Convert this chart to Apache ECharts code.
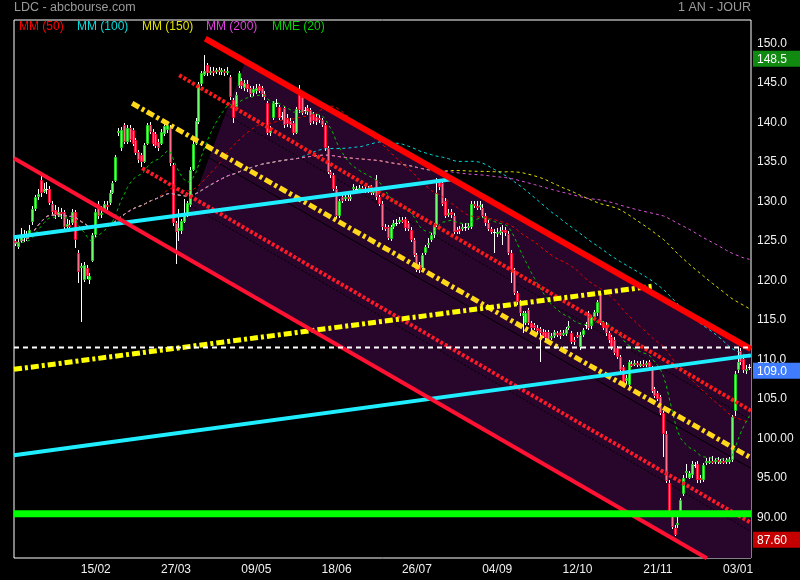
<!DOCTYPE html>
<html><head><meta charset="utf-8">
<script src="https://cdn.jsdelivr.net/npm/echarts@6/dist/echarts.min.js"></script>
<style>html,body{margin:0;padding:0;background:#000;}#c{width:800px;height:580px;}</style>
</head><body><div id="c"></div>
<script>
// ---------- calendar (trading days) ----------
const startDate = '2018-01-08';
const holidays = ['2018-03-30','2018-04-02','2018-05-01','2018-12-25','2018-12-26','2019-01-01'];
const tickLabels = ['15/02','27/03','09/05','18/06','26/07','04/09','12/10','21/11','03/01'];
const yTickValues = [90,95,100,105,110,115,120,125,130,135,140,145,150];

// ---------- candles: [open, close, low, high] ----------
const candles = [
[125.0,124.7,124.3,125.6],[124.2,124.8,124.0,125.3],[125.0,125.6,124.7,126.6],[125.7,125.3,124.9,126.4],[125.4,125.9,125.0,126.3],
[125.9,126.4,125.5,127.0],[127.4,129.0,127.0,129.4],[129.0,130.5,128.8,130.8],[130.6,130.9,130.2,131.6],[132.7,131.0,130.6,133.3],
[131.2,131.6,131.0,132.3],[131.5,131.5,130.9,132.4],[131.6,129.8,129.5,131.9],[129.7,128.6,128.2,130.0],[128.9,128.3,127.8,129.5],
[128.3,128.7,128.0,129.3],[128.7,128.4,127.7,129.1],[128.6,126.7,126.4,128.9],[126.8,127.1,126.3,127.7],[127.0,126.9,126.4,127.6],
[127.2,128.6,127.0,129.0],[128.6,125.1,124.1,128.9],[123.5,121.0,119.6,123.8],[121.6,121.8,114.7,122.2],[120.0,121.9,119.8,122.3],
[121.6,120.5,120.2,122.0],[120.0,120.6,119.5,120.9],[122.5,125.7,122.3,126.0],[125.7,128.6,125.5,129.0],[129.7,128.2,127.8,130.0],
[128.3,128.5,127.9,129.4],[128.9,129.6,128.6,130.0],[129.5,129.4,128.9,130.1],[129.8,131.1,129.5,131.4],[131.1,132.3,130.9,132.6],
[132.6,135.6,132.4,135.9],[138.6,138.9,138.3,139.3],[136.7,139.0,136.4,139.4],[139.6,137.5,137.2,139.9],[137.5,139.3,137.2,139.6],
[139.3,137.8,137.5,139.6],[139.0,137.3,137.0,139.3],[137.7,136.1,135.8,138.0],[136.2,135.2,134.9,136.5],[135.8,135.0,134.3,136.1],
[135.0,137.1,134.8,137.4],[137.3,139.6,137.1,139.9],[139.6,138.8,138.5,140.0],[138.8,137.3,137.0,139.1],[138.5,137.0,136.7,138.8],
[137.5,136.8,136.4,137.9],[137.3,138.8,137.1,139.1],[138.5,139.5,138.3,139.8],[139.0,139.6,138.7,140.0],[139.4,134.8,134.5,139.7],
[134.6,127.2,126.9,134.8],[127.2,126.1,122.1,127.5],[126.3,126.6,125.0,129.0],[126.2,127.5,125.9,127.8],[127.4,128.3,127.2,130.3],
[128.3,129.8,128.0,130.1],[129.5,134.0,129.3,134.3],[134.0,137.3,133.8,137.6],[137.3,140.2,137.1,140.5],[140.0,144.8,139.8,145.1],
[144.8,146.2,144.6,146.5],[146.0,146.5,145.8,148.5],[147.2,146.2,145.9,147.5],[146.3,146.5,146.0,147.0],[146.5,146.3,145.9,147.0],
[146.4,146.6,146.1,146.9],[146.6,146.4,146.0,147.0],[146.4,146.6,146.0,146.9],[146.5,146.3,145.9,146.8],[146.3,146.5,146.0,147.0],
[145.7,143.2,142.8,146.0],[142.8,140.6,139.9,143.1],[142.0,143.5,141.6,143.8],[144.6,146.2,144.3,146.5],[145.2,144.6,144.2,145.6],
[144.4,145.0,144.0,145.4],[144.9,144.2,143.8,145.3],[144.3,143.6,143.2,144.6],[143.7,144.2,143.3,144.6],[144.0,144.3,143.6,144.8],
[144.6,144.0,143.7,144.9],[144.3,143.6,143.2,144.6],[143.6,143.2,142.8,143.9],[142.4,138.7,138.4,142.7],[138.7,139.0,138.3,139.5],
[140.6,142.4,140.3,142.7],[142.4,142.4,141.9,143.0],[141.9,140.6,140.3,142.2],[140.8,140.8,140.3,141.3],[141.8,139.6,139.3,142.1],
[140.6,139.8,139.4,141.0],[140.2,139.6,139.3,140.5],[139.9,138.7,138.4,140.2],[138.7,141.7,138.5,142.0],[143.7,141.5,141.2,144.7],
[143.2,141.2,140.9,143.5],[141.6,141.5,141.0,142.0],[141.8,141.3,140.9,142.2],[141.5,139.9,139.6,141.8],[141.0,140.2,139.8,141.3],
[140.7,140.0,139.6,141.1],[140.5,140.3,139.9,140.9],[140.3,139.7,139.4,140.6],[139.6,136.7,136.4,139.9],[136.7,133.7,133.4,137.0],
[133.7,133.3,133.0,134.0],[133.3,131.6,131.3,133.6],[131.6,128.2,127.9,131.9],[128.2,130.0,127.9,130.3],[130.5,130.1,129.8,130.8],
[130.3,130.5,130.0,130.9],[130.5,130.4,130.0,130.9],[130.4,130.6,130.1,131.0],[131.5,131.8,131.2,132.2],[131.6,131.5,131.1,132.0],
[131.5,131.7,131.2,132.1],[131.7,131.4,131.0,132.0],[131.4,131.6,131.1,132.0],[131.6,131.5,131.1,132.0],[131.8,131.1,130.8,132.1],
[131.1,131.3,130.8,131.6],[132.7,130.5,130.2,133.3],[130.5,129.7,129.4,130.8],[129.7,126.7,126.4,130.0],[126.8,126.5,126.2,127.1],
[126.7,125.4,125.1,127.0],[125.2,126.7,125.0,127.0],[126.8,127.2,126.5,127.6],[127.2,127.3,126.9,127.8],[127.4,127.6,127.1,128.0],
[127.6,127.5,127.2,128.0],[127.7,126.6,126.3,128.0],[127.2,126.5,126.2,127.5],[126.4,125.1,124.8,126.7],[125.1,123.2,122.9,125.4],
[123.2,121.3,121.0,123.5],[122.0,121.3,120.9,122.3],[121.6,123.2,121.3,123.5],[123.5,124.2,123.2,124.5],[124.5,124.7,124.1,125.3],
[125.1,125.7,124.8,126.0],[125.7,127.0,125.4,127.3],[127.0,131.0,126.8,133.0],[132.4,131.8,131.4,132.8],[132.3,129.7,129.4,132.6],
[130.1,128.2,127.9,130.4],[128.4,128.5,128.0,129.0],[128.6,128.3,127.9,129.0],[128.2,126.1,125.8,128.5],[126.4,126.2,125.8,126.8],
[126.5,126.3,125.9,126.9],[126.6,126.8,126.3,127.1],[126.8,126.7,126.3,127.2],[126.8,126.9,126.4,127.2],[126.8,129.7,126.5,130.0],
[129.7,129.4,129.1,130.1],[129.4,129.3,128.9,130.0],[129.3,129.5,128.9,130.1],[129.2,128.2,127.9,129.6],[128.2,127.2,126.9,128.5],
[127.3,126.5,126.2,127.6],[126.5,126.1,125.8,126.8],[126.1,126.1,123.4,126.5],[125.8,126.1,125.5,126.6],[126.0,126.3,125.7,126.7],
[126.4,126.3,124.5,127.0],[126.4,126.0,125.6,126.7],[125.9,123.5,123.2,126.2],[123.5,121.3,119.6,123.8],[121.3,118.4,118.1,121.6],
[118.4,117.2,116.9,118.7],[117.2,115.8,115.5,117.5],[115.5,115.8,113.3,116.1],[114.6,115.8,114.3,116.1],[116.2,114.6,114.3,116.5],
[114.6,114.0,113.7,114.9],[114.3,114.0,113.7,114.6],[114.0,113.6,113.3,114.3],[113.8,113.3,109.6,114.1],[113.5,113.0,112.7,113.8],
[113.4,112.7,112.4,113.7],[113.4,112.4,112.1,113.7],[112.8,112.9,112.4,113.3],[113.0,113.4,112.7,113.7],[113.3,113.2,112.8,113.6],
[113.4,112.9,112.6,113.7],[113.2,113.3,112.9,113.7],[113.2,113.8,112.9,114.1],[114.0,114.2,113.7,114.8],[113.3,112.2,111.9,113.6],
[112.5,112.2,111.8,112.8],[113.1,113.0,112.7,113.4],[111.5,113.1,111.2,113.4],[113.1,113.7,112.8,114.0],[114.3,114.4,113.9,114.7],
[115.8,114.0,113.7,116.1],[114.2,115.3,113.9,115.6],[115.4,116.0,115.1,116.3],[115.8,117.2,115.5,117.5],[118.4,114.6,114.3,118.7],
[114.5,114.0,113.7,114.8],[114.4,113.3,113.0,114.7],[113.3,112.4,112.1,113.6],[112.8,111.5,111.2,113.1],[112.5,110.8,110.5,112.8],
[111.4,110.3,110.0,111.7],[110.3,108.6,108.3,110.6],[109.0,107.0,106.5,109.3],[107.2,107.6,106.9,108.0],[106.7,109.6,106.5,109.9],
[109.4,109.3,109.0,109.8],[109.3,109.5,109.1,109.9],[109.5,109.3,109.0,109.8],[109.3,109.4,109.0,109.8],[109.4,109.3,109.0,109.9],
[109.3,109.5,109.0,109.8],[109.6,109.0,108.7,109.9],[109.0,106.0,105.7,109.2],[106.2,105.4,105.1,106.5],[105.7,105.0,104.7,106.0],
[105.2,103.2,102.9,105.5],[103.2,100.6,97.6,103.5],[100.6,94.6,94.3,100.9],[94.4,90.5,90.2,94.7],[90.4,88.8,88.5,90.7],
[88.7,87.8,87.6,89.0],[89.0,89.3,88.7,90.5],[90.5,92.2,90.2,92.5],[93.0,95.0,92.7,95.3],[95.6,95.8,95.0,96.8],
[95.0,95.6,94.8,95.9],[95.3,96.8,95.0,97.1],[96.6,96.6,96.2,97.0],[96.8,94.7,94.4,97.1],[95.0,94.7,94.4,95.3],
[94.7,96.6,94.5,96.9],[96.9,97.1,96.6,97.5],[97.0,97.1,96.7,97.6],[97.1,97.0,96.7,97.8],[97.0,97.2,96.8,97.5],
[97.2,97.0,96.7,97.6],[97.0,97.1,96.8,97.4],[97.1,97.0,96.7,97.5],[97.0,97.2,96.8,97.5],[97.0,97.3,96.8,97.6],
[97.2,102.7,97.0,103.0],[103.5,108.2,102.8,108.5],[108.6,109.6,108.3,111.4],[111.1,109.6,109.3,111.4],[110.1,108.6,108.3,110.4],
[108.7,108.8,108.2,109.3],[109.0,109.0,108.6,109.4]
];

// ---------- drawn trend lines, [candle index, price] ----------
const upperRedLine   = [[66.2,150.6],[256.5,111.3]];
const lowerRedLine   = [[-0.5,135.44],[241.1,84.81]];
const redDotLineA    = [[57.1,145.95],[256.5,103.5]];
const redDotLineB    = [[44.2,134.18],[256.5,89.3]];
const yellowDownLine = [[40.7,142.41],[256.5,97.52]];
const yellowUpLine   = [[-0.5,108.73],[221.9,119.24]];
const cyanShortLine  = [[-0.5,125.44],[152.1,132.78]];
const cyanLongLine   = [[-0.5,97.85],[256.5,110.5]];
const blackLineA     = [[55,138.1],[256.5,96.2]];
const blackDotA      = [[70,141.7],[256.5,102.3]];
const blackDotB      = [[60,129.7],[256.5,88.2]];
const supportLevel   = [[-0.5,90.44],[256.5,90.44]];
const refLevel       = [[-0.5,111.5],[256.5,111.5]];
const channelZone    = [[80.16,147.74],[256.5,111.26],[256.5,84.85],[241.1,84.85],[55.37,123.73]];

// ---------- price badges ----------
const highValue = 148.5, lastValue = 109.0, lowValue = 87.60;
const badgeValues = [lowValue, lastValue, highValue];

// ---------- build ----------
function tradingDays(start, n, hol) {
  const out = []; const d = new Date(start + 'T00:00:00Z');
  while (out.length < n) {
    const wd = d.getUTCDay();
    const iso = d.toISOString().slice(0,10);
    if (wd !== 0 && wd !== 6 && hol.indexOf(iso) < 0) {
      out.push(iso.slice(8,10) + '/' + iso.slice(5,7) + '/' + iso.slice(0,4));
    }
    d.setUTCDate(d.getUTCDate() + 1);
  }
  return out;
}
const dates = tradingDays(startDate, candles.length, holidays);
const closes = candles.map(c => c[1]);
function sma(n) {
  return closes.map((_, i) => {
    const s = Math.max(0, i - n + 1); let sum = 0;
    for (let k = s; k <= i; k++) sum += closes[k];
    return +(sum / (i - s + 1)).toFixed(3);
  });
}
function ema(n) {
  const a = 2 / (n + 1); const out = []; let e = closes[0];
  closes.forEach((c, i) => { e = i === 0 ? c : e + (c - e) * a; out.push(+e.toFixed(3)); });
  return out;
}
const FONT = '"Liberation Sans", Arial, sans-serif';
const N = candles.length;
const YMIN = 84.85, YMAX = 152.95;

function tline(name, data, color, width, type, z) {
  return { name, type: 'line', xAxisIndex: 1, yAxisIndex: 0, data, showSymbol: false, symbol: 'none',
    silent: true, z: z || 5, lineStyle: { color, width, type: type || 'solid', cap: 'butt' } };
}
function maLine(name, data, color, z) {
  return { name, type: 'line', xAxisIndex: 0, yAxisIndex: 0, data, showSymbol: false, symbol: 'none',
    silent: true, z: z, lineStyle: { color, width: 1, type: [3, 3] } };
}
const badgeBox = { color: '#fff', fontSize: 12, fontFamily: FONT, padding: [3, 13, 1, 4], lineHeight: 13 };

const chart = echarts.init(document.getElementById('c'), null, { renderer: 'canvas' });
chart.setOption({
  backgroundColor: '#000',
  animation: false,
  grid: { left: 14, right: 49, top: 20, bottom: 22, show: true, borderColor: '#ffffff', borderWidth: 1,
          backgroundColor: 'transparent', containLabel: false, outerBoundsMode: 'none' },
  xAxis: [
    { type: 'category', data: dates, boundaryGap: true,
      axisLine: { show: false }, axisTick: { show: false }, splitLine: { show: false },
      axisLabel: { color: '#f0f0f0', fontSize: 12, fontFamily: FONT, margin: 6,
        interval: (i, v) => tickLabels.indexOf(v.slice(0,5)) >= 0 && i > 0,
        formatter: v => v.slice(0,5) } },
    { type: 'value', min: -0.5, max: N - 0.5, show: false }
  ],
  yAxis: [
    { type: 'value', position: 'right', min: YMIN, max: YMAX,
      axisLine: { show: false }, axisTick: { show: false }, splitLine: { show: false },
      axisLabel: { customValues: yTickValues, color: '#f0f0f0', fontSize: 12, fontFamily: FONT, margin: 6,
        formatter: v => v >= 105 ? v.toFixed(1) : v.toFixed(2) } },
    { type: 'value', position: 'right', min: YMIN, max: YMAX,
      axisLine: { show: false }, axisTick: { show: false }, splitLine: { show: false },
      axisLabel: { customValues: badgeValues, margin: 2, padding: [7, 0, 0, 0],
        formatter: v => Math.abs(v - highValue) < 1e-6 ? '{g|' + highValue.toFixed(1) + '}'
                      : Math.abs(v - lastValue) < 1e-6 ? '{b|' + lastValue.toFixed(1) + '}'
                      : '{r|' + lowValue.toFixed(2) + '}',
        rich: { g: Object.assign({ backgroundColor: '#118a11' }, badgeBox),
                b: Object.assign({ backgroundColor: '#3f7cff' }, badgeBox),
                r: Object.assign({ backgroundColor: '#c40000' }, badgeBox) } } }
  ],
  graphic: [
    { type: 'text', left: 14, top: 1, style: { text: 'LDC - abcbourse.com', fill: '#9a9a9a', font: '12.5px ' + FONT } },
    { type: 'text', right: 49, top: 1, style: { text: '1 AN - JOUR', fill: '#9a9a9a', font: '12.5px ' + FONT } },
    { type: 'text', left: 19, top: 21, z: 100, style: { text: 'MM (50)', fill: '#ff0000', font: '12px ' + FONT } },
    { type: 'text', left: 77, top: 21, z: 100, style: { text: 'MM (100)', fill: '#00dede', font: '12px ' + FONT } },
    { type: 'text', left: 142, top: 21, z: 100, style: { text: 'MM (150)', fill: '#e2e200', font: '12px ' + FONT } },
    { type: 'text', left: 206, top: 21, z: 100, style: { text: 'MM (200)', fill: '#e040e0', font: '12px ' + FONT } },
    { type: 'text', left: 272, top: 21, z: 100, style: { text: 'MME (20)', fill: '#00d000', font: '12px ' + FONT } }
  ],
  series: [
    { type: 'custom', name: 'zone', xAxisIndex: 1, yAxisIndex: 0, silent: true, z: 1,
      data: [[100, 120]],
      renderItem: (p, api) => ({ type: 'polygon',
        shape: { points: channelZone.map(pt => api.coord(pt)) },
        style: { fill: '#28052b' } }) },
    tline('blackA', blackLineA, '#000000', 1, 'solid', 2),
    tline('blackDA', blackDotA, '#000000', 1, [2, 2], 2),
    tline('blackDB', blackDotB, '#000000', 1, [2, 2], 2),
    { type: 'custom', name: 'LDC', xAxisIndex: 0, yAxisIndex: 0, z: 3, silent: true,
      data: candles.map((c, i) => [i, c[0], c[1], c[2], c[3]]),
      encode: { x: 0, y: [1, 2, 3, 4] },
      renderItem: (params, api) => {
        const i = api.value(0), o = api.value(1), c = api.value(2), l = api.value(3), h = api.value(4);
        const pO = api.coord([i, o]), pC = api.coord([i, c]), pL = api.coord([i, l]), pH = api.coord([i, h]);
        const cx = Math.floor(pO[0]);
        const L = cx - 1;
        const top = Math.round(Math.min(pO[1], pC[1])), bot = Math.round(Math.max(pO[1], pC[1]));
        const doji = Math.abs(c - o) < 0.05 || bot - top < 1;
        const up = c > o;
        const kids = [{ type: 'line', shape: { x1: cx + 0.5, y1: Math.round(pH[1]), x2: cx + 0.5, y2: Math.round(pL[1]) },
          style: { stroke: '#ffffff', lineWidth: 1 } }];
        if (doji) {
          kids.push({ type: 'line', shape: { x1: L, y1: top + 0.5, x2: L + 3, y2: top + 0.5 }, style: { stroke: '#ffffff', lineWidth: 1 } });
        } else {
          kids.push({ type: 'rect', shape: { x: L + 0.5, y: top + 0.5, width: 2, height: Math.max(1, bot - top - 1) },
            style: { fill: up ? '#6cff6c' : '#ff6f8c', stroke: up ? '#1fd41f' : '#ff0a36', lineWidth: 1 } });
        }
        return { type: 'group', children: kids };
      } },
    maLine('MM (50)', sma(50), '#e60000', 4),
    maLine('MM (100)', sma(100), '#00dede', 4),
    maLine('MM (150)', sma(150), '#e2e200', 4),
    maLine('MM (200)', sma(200), '#df55df', 4),
    maLine('MME (20)', ema(20), '#00c400', 4),
    tline('redDotA', redDotLineA, '#ff1a1a', 4, [3, 2]),
    tline('redDotB', redDotLineB, '#ff1a2a', 4, [3, 2]),
    tline('yellowDown', yellowDownLine, '#ffd81a', 5, [8, 3, 3, 3]),
    tline('yellowUp', yellowUpLine, '#ffff00', 5, [8, 3, 3, 3]),
    tline('cyanShort', cyanShortLine, '#1eeeff', 4),
    tline('cyanLong', cyanLongLine, '#1eeeff', 4),
    tline('upperRed', upperRedLine, '#ff0000', 6),
    tline('lowerRed', lowerRedLine, '#ff1133', 4),
    tline('ref', refLevel, '#ffffff', 2, [5, 4]),
    tline('support', supportLevel, '#00ff00', 7)
  ]
});
</script></body></html>
